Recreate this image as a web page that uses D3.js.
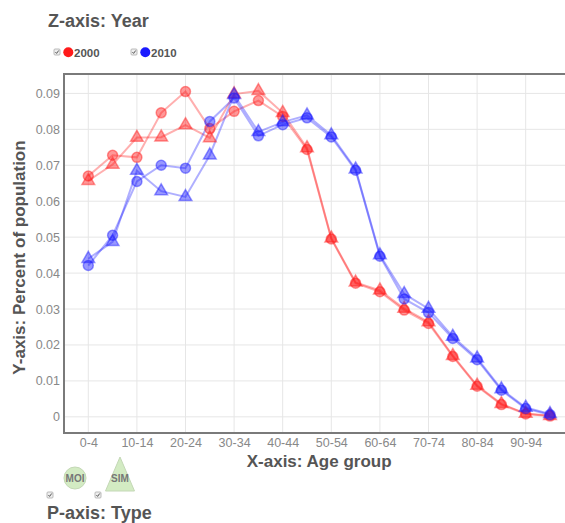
<!DOCTYPE html>
<html>
<head>
<meta charset="utf-8">
<script src="https://cdn.jsdelivr.net/npm/d3@7"></script>
<style>
  body { margin: 0; background: #fff; }
  svg { font-family: "Liberation Sans", Arial, sans-serif; }
</style>
</head>
<body>
<script>
'use strict';

var ageGroups = ["0-4","5-9","10-14","15-19","20-24","25-29","30-34","35-39","40-44","45-49",
  "50-54","55-59","60-64","65-69","70-74","75-79","80-84","85-89","90-94","95-99"];
var years = ["2000", "2010"];
var types = ["MOI", "SIM"];
var yTicks = [0, 0.01, 0.02, 0.03, 0.04, 0.05, 0.06, 0.07, 0.08, 0.09];

var moi2000 = [0.0670, 0.0728, 0.0722, 0.0846, 0.0905, 0.0802, 0.0850, 0.0880, 0.0836, 0.0744,
  0.0495, 0.0372, 0.0348, 0.0297, 0.0260, 0.0168, 0.0085, 0.0034, 0.0008, 0.0002];
var sim2000 = [0.0657, 0.0702, 0.0777, 0.0778, 0.0812, 0.0776, 0.0898, 0.0907, 0.0846, 0.0748,
  0.0497, 0.0374, 0.0352, 0.0301, 0.0264, 0.0170, 0.0087, 0.0036, 0.0009, 0.0003];
var moi2010 = [0.0421, 0.0505, 0.0655, 0.0700, 0.0692, 0.0822, 0.0887, 0.0782, 0.0813, 0.0832,
  0.0779, 0.0686, 0.0447, 0.0328, 0.0290, 0.0218, 0.0159, 0.0074, 0.0023, 0.0006];
var sim2010 = [0.0440, 0.0487, 0.0685, 0.0628, 0.0612, 0.0728, 0.0896, 0.0793, 0.0820, 0.0839,
  0.0784, 0.0689, 0.0450, 0.0342, 0.0301, 0.0223, 0.0163, 0.0077, 0.0026, 0.0008];

var series = [
  {year: "2000", type: "MOI", values: moi2000},
  {year: "2000", type: "SIM", values: sim2000},
  {year: "2010", type: "MOI", values: moi2010},
  {year: "2010", type: "SIM", values: sim2010}
];

var width = 565, height = 523;
var plotLeft = 64, plotTop = 74, plotBottom = 433;
var yearColor = {"2000": "#ff1a1a", "2010": "#1a1aff"};

var svg = d3.select("body").append("svg")
  .attr("width", width)
  .attr("height", height);

var xScale = d3.scaleLinear()
  .domain([-1, 20])
  .range([plotLeft, plotLeft + 21 * 24.3]);
var yScale = d3.scaleLinear()
  .domain([-0.0045, 0.0954])
  .range([plotBottom, plotTop]);

// grid
var grid = svg.append("g").attr("stroke", "#e6e6e6").attr("stroke-width", 1);
grid.selectAll(".hg").data(yTicks).enter().append("line")
  .attr("x1", plotLeft).attr("x2", width)
  .attr("y1", d => yScale(d)).attr("y2", d => yScale(d));
var xTickIdx = d3.range(0, 20, 2);
grid.selectAll(".vg").data(xTickIdx).enter().append("line")
  .attr("x1", d => xScale(d)).attr("x2", d => xScale(d))
  .attr("y1", plotTop).attr("y2", plotBottom);

// axes
var yAxis = d3.axisLeft(yScale).tickValues(yTicks).tickSize(0).tickPadding(4)
  .tickFormat(d => d === 0 ? "0" : d3.format(".2f")(d));
var gy = svg.append("g").attr("transform", "translate(" + plotLeft + ",0)").call(yAxis);
var xAxis = d3.axisBottom(xScale).tickValues(xTickIdx).tickSize(0).tickPadding(5.5)
  .tickFormat(i => ageGroups[i]);
var gx = svg.append("g").attr("transform", "translate(0," + plotBottom + ")").call(xAxis);
[gx, gy].forEach(function(g) {
  g.select(".domain").remove();
  g.selectAll("text").attr("fill", "#888").attr("font-size", 12.5);
});

// frame
svg.append("path")
  .attr("d", "M" + (width + 5) + "," + plotTop + "H" + plotLeft + "V" + plotBottom + "H" + (width + 5))
  .attr("fill", "none").attr("stroke", "#7a7a7a").attr("stroke-width", 2);

// lines and markers
var line = d3.line()
  .x((d, i) => xScale(i))
  .y(d => yScale(d));

var symTri = d3.symbol().type(d3.symbolTriangle).size(70);

series.forEach(function(s) {
  svg.append("path")
    .attr("d", line(s.values))
    .attr("fill", "none")
    .attr("stroke", yearColor[s.year])
    .attr("stroke-opacity", 0.35)
    .attr("stroke-width", 2);
});

series.forEach(function(s) {
  var g = svg.append("g");
  var c = yearColor[s.year];
  if (s.type === "MOI") {
    g.selectAll("circle").data(s.values).enter().append("circle")
      .attr("cx", (d, i) => xScale(i))
      .attr("cy", d => yScale(d))
      .attr("r", 5)
      .attr("fill", c).attr("fill-opacity", 0.45)
      .attr("stroke", c).attr("stroke-opacity", 0.45).attr("stroke-width", 1.5);
  } else {
    g.selectAll("path").data(s.values).enter().append("path")
      .attr("d", symTri)
      .attr("transform", (d, i) => "translate(" + xScale(i) + "," + yScale(d) + ")")
      .attr("fill", c).attr("fill-opacity", 0.45)
      .attr("stroke", c).attr("stroke-opacity", 0.45).attr("stroke-width", 1.5);
  }
});

// axis titles
svg.append("text")
  .attr("x", (plotLeft + xScale(20)) / 2).attr("y", 467)
  .attr("text-anchor", "middle")
  .attr("font-size", 17).attr("font-weight", "bold").attr("fill", "#555")
  .text("X-axis: Age group");
svg.append("text")
  .attr("transform", "translate(25," + ((plotTop + plotBottom) / 2 + 4) + ") rotate(-90)")
  .attr("text-anchor", "middle")
  .attr("font-size", 17).attr("font-weight", "bold").attr("fill", "#555")
  .text("Y-axis: Percent of population");

// checkbox helper
function checkbox(x, y) {
  var g = svg.append("g").attr("transform", "translate(" + x + "," + y + ")");
  g.append("rect").attr("x", -3).attr("y", -3).attr("width", 6).attr("height", 6)
    .attr("rx", 1).attr("fill", "#eee").attr("stroke", "#aaa").attr("stroke-width", 0.8);
  g.append("path").attr("d", "M-1.6,0.1L-0.4,1.4L1.7,-1.5")
    .attr("fill", "none").attr("stroke", "#444").attr("stroke-width", 0.9);
}

// Z legend (years)
svg.append("text")
  .attr("x", 48).attr("y", 27)
  .attr("font-size", 18).attr("font-weight", "bold").attr("fill", "#555")
  .text("Z-axis: Year");
var yearX = [57, 134];
years.forEach(function(y, k) {
  var x0 = yearX[k];
  checkbox(x0, 52);
  svg.append("circle").attr("cx", x0 + 11.3).attr("cy", 52.3).attr("r", 5)
    .attr("fill", yearColor[y]);
  svg.append("text").attr("x", x0 + 17).attr("y", 56.5)
    .attr("font-size", 11.5).attr("font-weight", "bold").attr("fill", "#555")
    .text(y);
});

// P legend (types)
var typeX = [75, 120];
var legendGreen = "#d3ebc3";
types.forEach(function(t, k) {
  var cx = typeX[k];
  if (t === "MOI") {
    svg.append("circle").attr("cx", cx).attr("cy", 478).attr("r", 11)
      .attr("fill", legendGreen).attr("stroke", "#c4d8b6").attr("stroke-width", 1);
  } else {
    svg.append("path")
      .attr("d", "M" + cx + ",457L" + (cx + 14.5) + ",491L" + (cx - 14.5) + ",491Z")
      .attr("fill", legendGreen).attr("stroke", "#c4d8b6").attr("stroke-width", 1);
  }
  svg.append("text").attr("x", cx).attr("y", 481.5)
    .attr("text-anchor", "middle")
    .attr("font-size", 10).attr("font-weight", "bold").attr("fill", "#777")
    .text(t);
  checkbox(cx - 25 + (k === 0 ? 0 : 3), 495);
});
svg.append("text")
  .attr("x", 47).attr("y", 519)
  .attr("font-size", 18).attr("font-weight", "bold").attr("fill", "#555")
  .text("P-axis: Type");
</script>
</body>
</html>
